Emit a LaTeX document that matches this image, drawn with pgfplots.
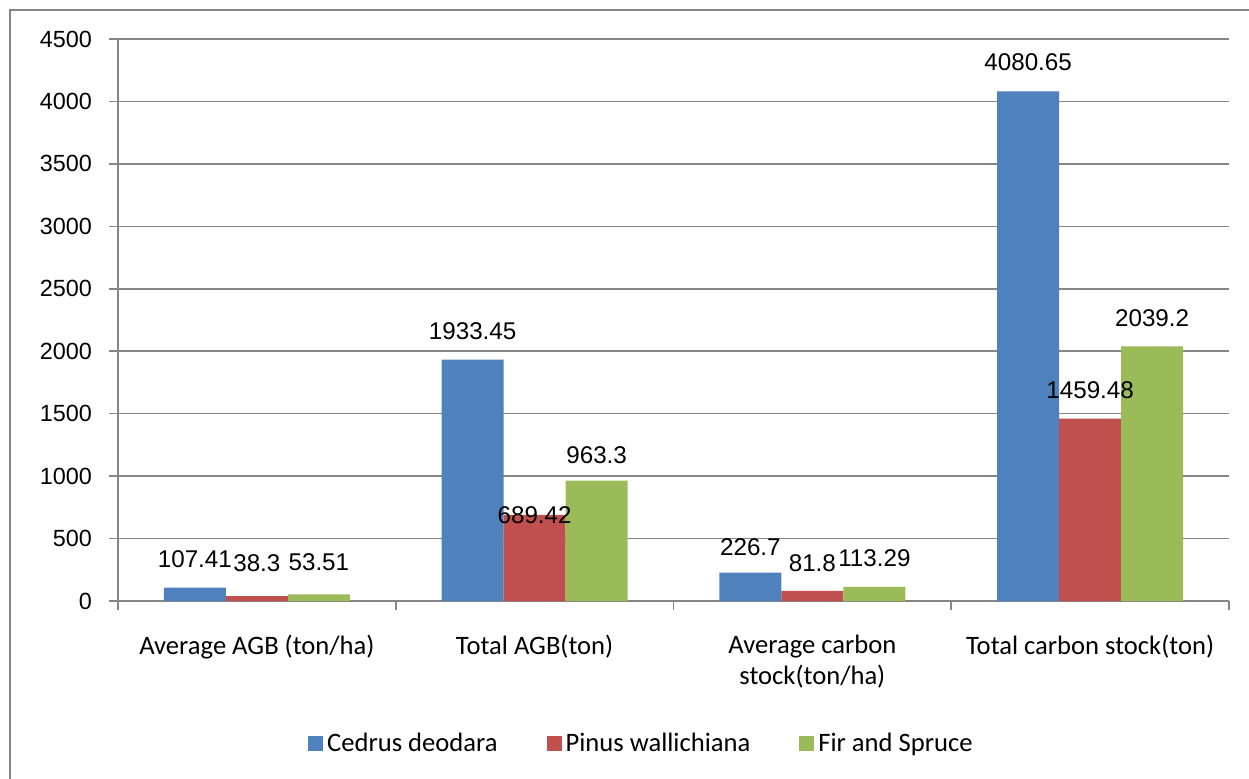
\documentclass[border=0pt]{standalone}
\usepackage{fontspec}
\setmainfont{Carlito}
\newfontfamily\numfont{Liberation Sans}
\usepackage{pgfplots}
\usepackage{pgfplotstable}
\pgfplotsset{compat=1.18}
\definecolor{cblue}{HTML}{4F81BD}
\definecolor{cred}{HTML}{C0504D}
\definecolor{cgreen}{HTML}{9BBB59}
\definecolor{gline}{HTML}{868686}

\pgfplotstableread{
x y dy
0 107.41 14.3
1 1933.45 14.2
2 226.7 12.8
3 4080.65 14.5
}\tblA
\pgfplotstableread{
x y dy
0 38.3 16.3
1 689.42 0
2 81.8 14
3 1459.48 14.3
}\tblB
\pgfplotstableread{
x y dy
0 53.51 16
1 963.3 13
2 113.29 14.3
3 2039.2 14.2
}\tblC

\begin{document}
\begin{tikzpicture}[x=1pt,y=1pt]
\useasboundingbox (0,0) rectangle (624.5,389);
\draw[gline, line width=1pt] (5,-5) -- (5,384) -- (640,384);
\begin{axis}[
  at={(59pt,88.5pt)}, anchor=south west,
  scale only axis, width=555.5pt, height=281pt,
  ybar=0pt, bar width=31pt,
  xmin=-0.5, xmax=3.5, ymin=0, ymax=4500,
  ytick distance=500,
  xtick={-0.5,0.5,1.5,2.5,3.5},
  xticklabels={},
  extra x ticks={0,1,2,3},
  extra x tick labels={Average AGB (ton/ha), Total AGB(ton), {Average carbon\\stock(ton/ha)}, Total carbon stock(ton)},
  extra x tick style={major tick length=0pt, grid=none, xticklabel style={yshift=-13.5pt}},
  axis x line*=bottom, axis y line*=left,
  axis line style={gline, line width=0.8pt, -},
  ymajorgrids, grid style={gline, line width=0.8pt},
  tick align=outside,
  major tick length=4.5pt,
  tick style={gline, line width=0.8pt},
  /pgf/number format/assume math mode=true,
  /pgf/number format/1000 sep={},
  yticklabel style={font=\numfont\fontsize{11.7}{14}\selectfont, text=black, xshift=-5pt},
  xticklabel style={font=\fontsize{13.3}{15.5}\selectfont, align=center, text=black},
  nodes near coords,
  point meta=explicit,
  every node near coord/.append style={font=\numfont\fontsize{12.1}{14}\selectfont, text=black, anchor=center, yshift=\dy pt},
  legend columns=3,
  legend style={at={(0.472,-0.2544)}, anchor=center, draw=none, font=\fontsize{13.3}{15.5}\selectfont,
    /tikz/every even column/.append style={column sep=22.5pt}},
]
\addplot[fill=cblue, draw=none, visualization depends on={\thisrow{dy}\as\dy},
  legend image code/.code={\fill[cblue] (0pt,-3.75pt) rectangle (7.5pt,3.75pt);}]
  table[x=x, y=y, meta=y]{\tblA};
\addlegendentry{Cedrus deodara}
\addplot[fill=cred, draw=none, visualization depends on={\thisrow{dy}\as\dy},
  legend image code/.code={\fill[cred] (0pt,-3.75pt) rectangle (7.5pt,3.75pt);}]
  table[x=x, y=y, meta=y]{\tblB};
\addlegendentry{Pinus wallichiana}
\addplot[fill=cgreen, draw=none, visualization depends on={\thisrow{dy}\as\dy},
  legend image code/.code={\fill[cgreen] (0pt,-3.75pt) rectangle (7.5pt,3.75pt);}]
  table[x=x, y=y, meta=y]{\tblC};
\addlegendentry{Fir and Spruce}
\end{axis}
\end{tikzpicture}
\end{document}
